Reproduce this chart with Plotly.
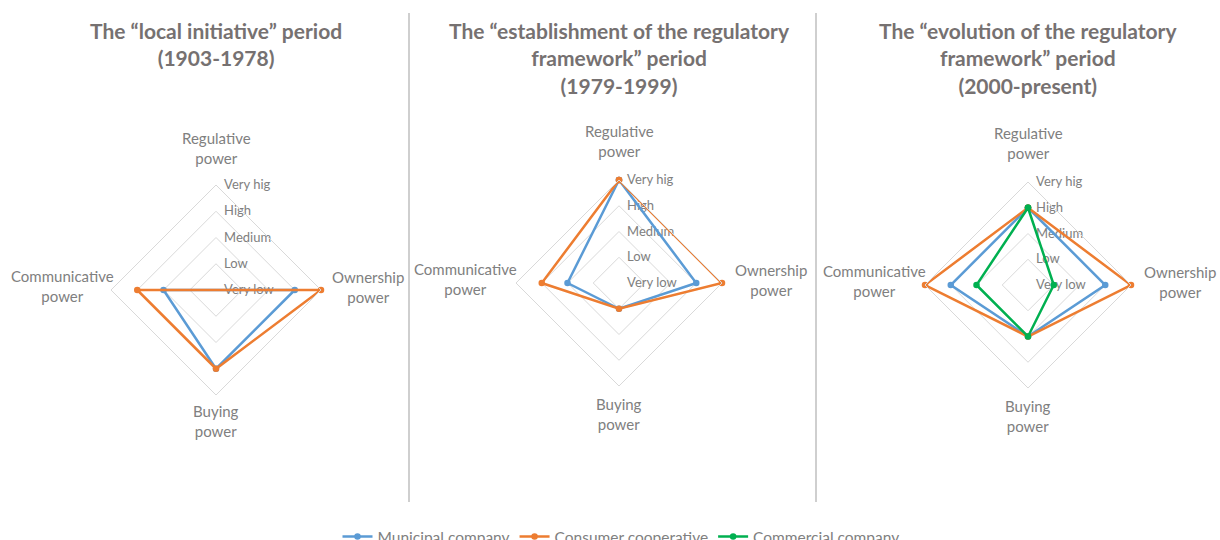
import plotly.graph_objects as go

categories = ["Regulative<br>power", "Ownership<br>power", "Buying<br>power", "Communicative<br>power"]
level_values = [1, 2, 3, 4, 5]
level_labels = ["Very low", "Low", "Medium", "High", "Very hig"]

titles = [
    "The \u201clocal initiative\u201d period<br>(1903-1978)",
    "The \u201cestablishment of the regulatory<br>framework\u201d period<br>(1979-1999)",
    "The \u201cevolution of the regulatory<br>framework\u201d period<br>(2000-present)",
]

series_names = ["Municipal company", "Consumer cooperative", "Commercial company"]
series_colors = ["#5B9BD5", "#ED7D31", "#00B050"]

# values in order: Regulative, Ownership, Buying, Communicative (1=Very low .. 5=Very high)
p1_municipal = [1, 4, 4, 3]
p1_cooperative = [1, 5, 4, 4]
p2_municipal = [5, 4, 2, 3]
p2_cooperative = [5, 5, 2, 4]
p3_municipal = [4, 4, 3, 4]
p3_cooperative = [4, 5, 3, 5]
p3_commercial = [4, 2, 3, 3]

panels = [
    [p1_municipal, p1_cooperative],
    [p2_municipal, p2_cooperative],
    [p3_municipal, p3_cooperative, p3_commercial],
]

W, H = 1220, 540
centers = [(216, 290, 105), (619, 283, 103), (1028, 285, 103)]
# label offsets from panel centre (dx, dy) in pixels, for each category
label_offsets = [(0, -142), (152, -3), (0, 131), (-154, -4)]

fig = go.Figure()
FONT = "Lato, 'Open Sans', sans-serif"
GRAY = "#808080"
GRID = "#d9d9d9"

for pi, series in enumerate(panels):
    pid = "polar" if pi == 0 else f"polar{pi+1}"
    for si, vals in enumerate(series):
        fig.add_trace(go.Scatterpolar(
            r=vals + vals[:1],
            theta=categories + categories[:1],
            mode="lines+markers",
            name=series_names[si],
            line=dict(color=series_colors[si], width=2.5),
            marker=dict(color=series_colors[si], size=6.5),
            legendgroup=series_names[si],
            showlegend=(pi == 2),
            subplot=pid,
        ))
    cx, cy, R = centers[pi]
    polar = dict(
        domain=dict(x=[(cx - R) / W, (cx + R) / W], y=[(H - cy - R) / H, (H - cy + R) / H]),
        gridshape="linear",
        bgcolor="white",
        angularaxis=dict(
            rotation=90, direction="clockwise",
            showgrid=False, showline=True, linecolor=GRID, linewidth=1,
            showticklabels=False, ticks="",
        ),
        radialaxis=dict(
            range=[1, 5], tickvals=level_values, ticktext=level_labels,
            angle=90, tickangle=90, layer="below traces",
            showline=False, showgrid=True, gridcolor=GRID, gridwidth=1,
            ticks="outside", ticklen=5, tickcolor="rgba(0,0,0,0)",
            tickfont=dict(family=FONT, size=13, color=GRAY),
        ),
    )
    fig.update_layout(**{pid: polar})
    for cat, (dx, dy) in zip(categories, label_offsets):
        fig.add_annotation(
            text=cat, x=(cx + dx) / W, y=(H - cy - dy) / H, xref="paper", yref="paper",
            xanchor="center", yanchor="middle", showarrow=False, align="center",
            font=dict(family=FONT, size=15, color=GRAY),
        )

# titles
title_x = [216, 619, 1028]
for t, x in zip(titles, title_x):
    fig.add_annotation(
        text=t, x=x / W, y=1 - 16 / H, xref="paper", yref="paper",
        xanchor="center", yanchor="top", showarrow=False, align="center",
        font=dict(family=FONT, size=21, color="#767171", weight="bold"),
    )

for x in [409, 816]:
    fig.add_shape(type="line", xref="paper", yref="paper",
                  x0=x / W, x1=x / W, y0=1 - 13 / H, y1=1 - 502 / H,
                  line=dict(color="#bfbfbf", width=1.5))

fig.update_layout(
    width=W, height=H,
    margin=dict(l=0, r=0, t=0, b=0, autoexpand=False),
    paper_bgcolor="white",
    plot_bgcolor="white",
    showlegend=True,
    legend=dict(orientation="h", x=621 / W, xanchor="center", y=3 / H, yanchor="middle",
                font=dict(family=FONT, size=15.5, color=GRAY), itemwidth=30,
                bgcolor="rgba(0,0,0,0)"),
)

fig.write_html("out.html", config={"displayModeBar": False},
               post_script="document.body.style.margin='0';")
